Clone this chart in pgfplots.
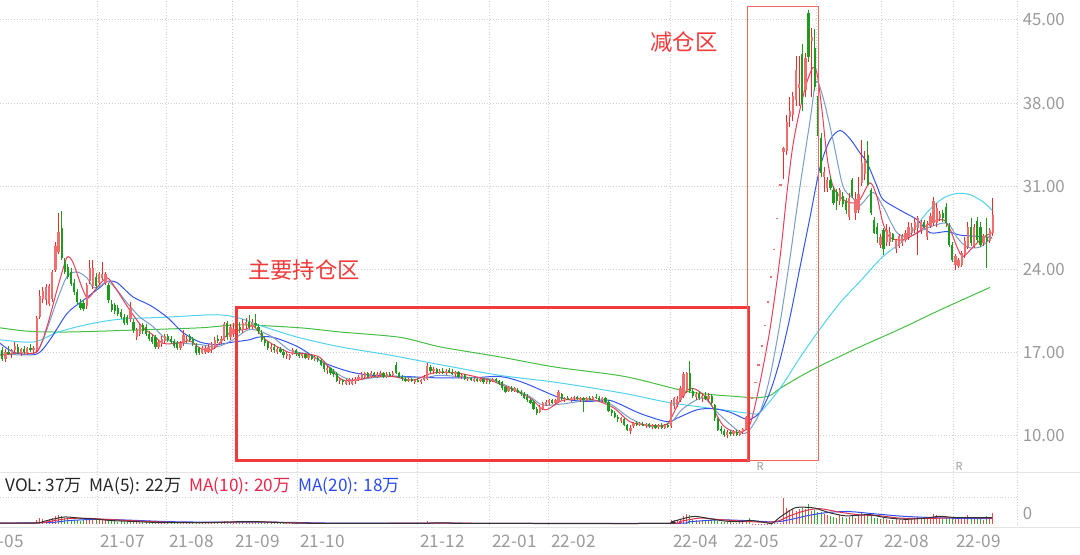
\documentclass[border=0pt]{standalone}
\usepackage{pgfplots}
\pgfplotsset{compat=1.18}
\usepackage{pgfplotstable}
\usepackage{fontspec}
\newfontfamily\cjk{Noto Sans CJK SC}
\definecolor{upbody}{HTML}{F26E6E}
\definecolor{upwick}{HTML}{EE2B2B}
\definecolor{dnbody}{HTML}{1E9B1E}
\definecolor{ma5}{HTML}{E8405A}
\definecolor{ma10}{HTML}{7A9CC8}
\definecolor{ma20}{HTML}{3355EE}
\definecolor{ma60}{HTML}{50D2EE}
\definecolor{malong}{HTML}{45BE45}
\definecolor{boxred}{HTML}{F23A3A}
\definecolor{boxthin}{HTML}{F06666}
\definecolor{lbl}{HTML}{9A9A9A}
\definecolor{gridc}{HTML}{CFCFCF}
\definecolor{sepc}{HTML}{E4E4E4}
\definecolor{vred}{HTML}{F04C4C}
\definecolor{vgreen}{HTML}{3BAA3B}
\definecolor{vma5}{HTML}{333333}
\definecolor{vma10}{HTML}{E0304A}
\definecolor{vma20}{HTML}{3050F0}
\definecolor{lgred}{HTML}{E8254A}
\definecolor{lgblue}{HTML}{2B4BF2}
\pgfplotstableread{
i o h l c v
0 17.2 17.5 16.3 16.5 4
1 16.5 17.3 16.2 17.1 3
2 17.1 17.6 16.8 16.9 3
3 16.9 17.3 16.6 17.2 2
4 17.2 17.9 17.0 17.6 4
5 17.5 17.7 16.9 17.0 3
6 17.0 17.4 16.7 17.3 2
7 17.3 17.6 16.9 17.1 3
8 17.0 17.5 16.8 17.4 2
9 17.4 17.7 17.1 17.3 3
10 17.3 17.6 17.0 17.4 3
11 17.2 20.1 17.0 19.9 15
12 20.0 22.3 19.8 21.8 20
13 21.5 22.5 21.2 22.2 18
14 21.4 22.8 21.0 22.5 14
15 21.1 22.8 20.9 22.6 16
16 21.5 24.0 21.3 23.8 22
17 24.0 26.3 23.8 26.0 28
18 25.5 28.8 25.3 27.2 30
19 27.5 28.9 24.8 25.0 26
20 24.6 25.0 23.6 23.8 20
21 24.2 24.5 23.2 23.4 18
22 23.8 24.1 22.6 22.8 15
23 22.9 23.2 21.9 22.1 14
24 22.1 22.4 21.1 21.3 12
25 21.2 21.5 20.6 20.8 10
26 21.2 21.4 20.5 20.7 12
27 20.9 22.9 20.7 22.7 18
28 23.0 24.8 22.8 24.1 22
29 22.6 24.8 22.4 24.1 20
30 23.4 23.7 22.4 22.6 15
31 22.9 23.8 22.7 23.6 14
32 23.3 24.6 23.1 23.6 12
33 22.9 23.8 22.7 23.6 13
34 22.7 22.9 21.2 21.4 12
35 21.1 21.4 20.4 20.6 10
36 21.0 21.2 20.3 20.5 9
37 20.8 21.0 20.1 20.3 8
38 20.4 20.7 19.8 20.0 9
39 20.0 20.3 19.3 19.5 8
40 20.0 20.2 19.3 19.5 8
41 19.8 21.3 19.6 20.8 12
42 19.6 19.8 18.7 18.9 9
43 18.3 19.1 18.1 18.9 7
44 18.6 19.5 18.4 19.3 8
45 19.3 19.5 18.6 18.8 7
46 19.2 19.4 18.4 18.6 6
47 18.6 18.8 18.0 18.2 6
48 18.3 18.5 17.7 17.9 5
49 18.3 18.5 17.3 17.5 6
50 17.5 18.1 17.3 17.9 5
51 17.7 18.4 17.5 18.2 5
52 18.0 18.6 17.8 18.4 6
53 18.4 18.6 17.9 18.1 5
54 18.2 18.4 17.7 17.9 4
55 18.0 18.2 17.4 17.6 4
56 17.8 18.0 17.2 17.4 4
57 17.4 18.0 17.2 17.8 5
58 17.8 18.9 17.6 18.5 6
59 18.0 18.4 17.8 18.2 5
60 18.4 18.6 17.9 18.1 4
61 18.2 18.3 17.6 17.8 4
62 17.6 17.8 16.8 17.0 5
63 17.4 17.5 16.8 17.0 4
64 17.0 17.6 16.9 17.4 4
65 17.1 17.6 16.9 17.4 4
66 17.1 17.7 17.0 17.5 4
67 17.2 17.9 17.0 17.7 5
68 17.5 18.3 17.3 18.1 6
69 18.2 18.5 17.8 18.0 5
70 17.9 18.4 17.7 18.2 6
71 18.1 19.6 18.0 19.4 10
72 19.5 19.7 18.1 18.3 9
73 18.3 19.4 18.1 19.2 8
74 18.6 19.5 18.3 19.0 8
75 18.8 19.5 18.6 19.3 7
76 19.2 19.6 18.7 18.9 7
77 18.9 19.8 18.7 19.5 9
78 19.3 19.9 19.0 19.6 8
79 19.6 20.2 19.0 19.2 10
80 19.2 19.8 19.0 19.6 7
81 19.5 20.3 19.1 19.3 9
82 19.2 19.4 18.6 18.8 6
83 18.7 18.9 17.9 18.1 6
84 18.1 18.3 17.6 17.8 5
85 17.9 18.0 17.2 17.4 5
86 17.3 17.7 17.1 17.5 4
87 17.5 17.7 17.0 17.2 4
88 17.1 17.5 16.9 17.3 4
89 17.3 17.5 17.0 17.1 4
90 17.1 17.3 16.6 16.8 3
91 16.7 17.1 16.5 16.9 3
92 16.6 16.9 16.4 16.8 3
93 16.9 17.4 16.8 17.2 3
94 17.2 17.3 16.7 16.9 3
95 16.9 17.1 16.6 16.7 3
96 16.7 17.0 16.6 16.9 2
97 16.9 17.0 16.5 16.6 2
98 16.6 16.9 16.4 16.8 2
99 16.8 16.9 16.4 16.5 2
100 16.5 16.8 16.3 16.6 2
101 16.6 16.7 16.2 16.4 2
102 16.4 16.5 15.9 16.0 2
103 16.1 16.2 15.4 15.6 3
104 15.6 15.9 15.2 15.7 2
105 15.7 15.8 15.1 15.3 2
106 15.4 15.6 15.0 15.2 2
107 15.2 15.4 14.5 14.6 3
108 14.6 14.9 14.4 14.8 2
109 14.7 14.8 14.3 14.5 2
110 14.4 14.8 14.3 14.7 2
111 14.5 14.9 14.3 14.8 2
112 14.4 14.9 14.3 14.7 2
113 14.6 15.0 14.4 14.8 2
114 14.7 15.1 14.6 15.0 2
115 14.9 15.4 14.8 15.2 2
116 15.0 15.4 14.9 15.3 2
117 15.3 15.4 14.9 15.0 2
118 15.0 15.5 14.9 15.3 2
119 15.3 15.4 15.0 15.1 2
120 15.0 15.4 14.9 15.2 2
121 15.2 15.5 15.0 15.3 2
122 15.3 15.4 14.9 15.0 2
123 15.0 15.4 14.9 15.2 2
124 15.2 15.4 15.0 15.1 2
125 15.1 15.5 15.0 15.3 2
126 16.0 16.2 15.2 15.3 4
127 15.3 15.4 14.9 15.0 2
128 15.0 15.1 14.6 14.8 2
129 14.8 15.0 14.5 14.7 2
130 14.6 14.9 14.5 14.8 2
131 14.8 14.9 14.5 14.6 2
132 14.6 14.8 14.4 14.7 2
133 14.7 14.9 14.5 14.6 2
134 14.6 14.8 14.4 14.7 2
135 14.7 15.1 14.6 15.0 2
136 14.8 16.1 14.7 15.9 9
137 15.8 16.0 15.3 15.5 5
138 15.5 15.8 15.2 15.6 3
139 15.6 15.7 15.2 15.3 3
140 15.3 15.6 15.2 15.5 3
141 15.5 15.7 15.2 15.3 3
142 15.3 15.6 15.1 15.5 3
143 15.5 15.7 15.3 15.4 2
144 15.4 15.6 15.1 15.2 2
145 15.2 15.5 15.0 15.4 2
146 15.4 15.5 14.9 15.0 2
147 15.0 15.2 14.8 15.1 2
148 15.1 15.2 14.7 14.8 2
149 14.8 15.0 14.6 14.9 2
150 14.9 15.0 14.6 14.7 2
151 14.7 14.9 14.5 14.8 2
152 14.8 14.9 14.5 14.6 2
153 14.6 14.9 14.5 14.8 2
154 14.8 14.9 14.4 14.5 2
155 14.5 14.8 14.4 14.7 2
156 14.7 14.8 14.4 14.6 2
157 14.6 14.9 14.5 14.8 2
158 14.8 14.9 14.5 14.6 2
159 14.6 14.7 14.3 14.4 2
160 14.5 14.6 13.9 14.0 2
161 14.1 14.2 13.6 13.7 2
162 13.8 14.2 13.7 14.1 2
163 14.0 14.2 13.7 13.8 2
164 13.8 14.1 13.7 14.0 2
165 13.9 14.0 13.6 13.7 2
166 13.7 13.9 13.4 13.5 2
167 13.5 13.7 13.1 13.2 2
168 13.3 13.5 12.9 13.0 2
169 13.0 13.2 12.7 12.8 2
170 12.9 13.0 12.2 12.3 2
171 12.3 12.4 11.8 11.9 2
172 12.0 12.6 11.9 12.4 2
173 12.3 12.9 12.2 12.8 2
174 12.6 13.0 12.5 12.9 2
175 12.8 13.1 12.6 13.0 2
176 13.0 13.1 12.7 12.8 2
177 12.8 13.1 12.7 13.0 2
178 12.9 13.9 12.8 13.7 3
179 13.5 13.6 13.0 13.1 2
180 13.1 13.3 12.9 13.2 2
181 13.2 13.4 13.0 13.1 2
182 13.1 13.3 12.9 13.2 2
183 13.2 13.4 13.0 13.3 2
184 13.3 13.4 13.0 13.1 2
185 13.1 13.3 12.9 13.2 2
186 13.2 13.3 12.0 13.0 3
187 13.0 13.3 12.9 13.2 2
188 13.2 13.4 13.0 13.1 2
189 13.1 13.4 13.0 13.3 2
190 13.3 13.5 13.1 13.2 2
191 13.2 13.4 12.9 13.0 2
192 13.0 13.3 12.9 13.2 2
193 13.2 13.3 12.8 12.9 2
194 12.9 13.0 12.0 12.1 3
195 12.2 12.3 11.7 11.9 3
196 11.9 12.1 11.5 11.6 3
197 11.6 11.8 11.2 11.4 2
198 11.3 11.6 11.1 11.5 2
199 11.4 11.5 10.8 10.9 3
200 10.9 11.0 10.4 10.5 3
201 10.4 10.9 10.2 10.7 2
202 10.8 11.2 10.7 11.1 2
203 11.1 11.3 10.8 10.9 2
204 10.9 11.2 10.8 11.1 2
205 11.0 11.2 10.8 10.9 2
206 10.9 11.1 10.7 11.0 2
207 11.0 11.1 10.7 10.8 2
208 10.8 11.0 10.6 10.9 2
209 10.9 11.0 10.6 10.7 2
210 10.8 11.0 10.6 10.9 2
211 10.9 11.1 10.6 10.7 2
212 10.7 11.0 10.6 10.9 2
213 10.9 11.1 10.7 10.8 2
214 10.8 13.0 10.7 12.9 12
215 12.5 13.3 12.3 13.2 15
216 12.6 13.4 12.4 13.1 14
217 13.0 14.2 12.9 14.0 18
218 13.4 15.4 13.2 15.2 28
219 13.8 15.4 13.6 15.3 35
220 15.3 16.3 13.6 13.8 30
221 13.8 14.0 13.2 13.4 18
222 13.3 13.7 13.0 13.5 14
223 13.5 13.8 13.0 13.2 10
224 13.2 13.6 12.9 13.4 12
225 13.4 13.7 13.0 13.1 10
226 13.1 13.6 12.9 13.4 9
227 13.4 13.5 12.6 12.8 14
228 12.6 12.7 11.3 11.5 12
229 11.4 11.5 10.4 10.5 10
230 10.6 10.8 10.2 10.4 8
231 10.4 10.6 9.9 10.1 8
232 10.1 10.5 9.8 10.3 6
233 10.3 10.5 10.0 10.2 6
234 10.2 10.5 10.0 10.4 5
235 10.3 10.5 10.0 10.1 5
236 10.1 10.5 10.0 10.4 6
237 10.3 10.7 10.2 10.6 8
238 10.6 11.7 10.5 11.6 15
239 12.3 12.6 11.8 12.0 22
240 13.2 13.2 13.2 13.2 1
241 14.5 14.5 14.5 14.5 1
242 16.0 16.0 16.0 16.0 1
243 17.6 17.6 17.6 17.6 1
244 19.3 19.3 19.3 19.3 1
245 21.3 21.3 21.3 21.3 1
246 23.4 23.4 23.4 23.4 1
247 25.7 25.7 25.7 25.7 2
248 28.3 28.3 28.3 28.3 3
249 31.1 31.1 31.1 31.1 5
250 33.9 34.3 31.6 34.2 88
251 34.0 37.0 33.6 36.4 55
252 36.8 38.5 36.0 37.3 48
253 37.0 38.9 36.5 38.6 52
254 38.3 42.0 37.8 40.8 45
255 39.3 42.0 37.8 39.6 50
256 42.1 43.0 37.3 37.9 55
257 39.1 42.2 38.5 41.8 50
258 45.6 45.8 41.5 41.9 68
259 43.2 44.3 38.5 43.6 45
260 42.6 44.2 39.0 39.4 48
261 38.1 38.6 35.2 35.5 40
262 35.1 35.5 31.8 32.1 42
263 31.8 32.6 30.5 32.2 35
264 30.9 31.8 30.5 31.5 30
265 31.5 31.9 30.7 30.9 28
266 30.7 31.0 29.4 29.6 25
267 30.5 30.8 29.0 29.8 22
268 29.8 30.9 29.4 30.7 30
269 30.2 30.5 29.3 29.5 25
270 29.8 30.0 28.7 29.0 22
271 28.4 30.4 28.2 30.0 25
272 31.5 31.7 30.0 30.2 28
273 28.8 30.5 28.2 29.9 22
274 29.0 31.8 28.8 30.4 30
275 31.3 34.9 31.0 33.0 38
276 32.0 34.0 31.5 33.2 35
277 33.6 34.8 31.0 31.1 32
278 30.7 30.9 28.6 28.8 26
279 28.2 28.4 27.0 27.1 22
280 27.6 27.9 26.2 27.0 20
281 26.1 27.0 25.8 26.7 18
282 27.3 27.5 25.2 25.7 20
283 26.3 27.8 26.0 27.3 16
284 26.3 27.6 26.0 27.2 15
285 27.0 27.1 26.3 26.5 14
286 25.7 26.6 25.4 26.5 18
287 26.0 27.0 25.8 26.8 15
288 26.2 27.0 26.0 26.8 14
289 26.5 27.3 26.3 27.1 16
290 26.7 28.0 26.5 27.6 18
291 27.1 27.9 26.9 27.6 16
292 27.3 28.3 27.1 28.0 20
293 27.5 28.5 25.2 28.3 25
294 27.3 28.2 27.0 28.0 18
295 28.0 28.2 27.5 27.6 16
296 26.7 28.1 26.5 27.8 20
297 27.7 28.8 27.5 28.5 24
298 27.9 30.1 27.7 29.8 35
299 27.9 29.6 27.6 29.2 30
300 28.3 28.9 28.1 28.7 22
301 28.8 29.0 28.0 28.3 18
302 29.3 29.6 27.6 27.9 25
303 27.6 27.9 25.9 26.1 22
304 26.1 26.3 24.6 24.8 20
305 24.4 25.3 24.0 25.1 18
306 24.3 25.0 24.1 24.8 16
307 24.4 25.6 24.2 25.4 20
308 25.2 26.7 25.0 26.4 24
309 25.9 28.0 25.7 27.6 30
310 27.6 28.3 26.0 26.2 22
311 26.0 27.8 25.8 27.6 25
312 28.1 28.4 26.2 26.5 20
313 27.6 28.0 25.9 26.1 18
314 26.2 27.0 26.0 26.8 15
315 26.7 28.3 24.1 26.4 28
316 26.4 27.5 26.2 27.3 20
317 27.1 30.0 26.8 28.6 37
}\candles
\begin{document}
\begin{tikzpicture}
\path[use as bounding box] (0,0) rectangle (540pt,277.5pt);
% ---------------- price panel ----------------
\begin{axis}[
  at={(0pt,277.5pt)}, anchor=north west,
  scale only axis, width=509pt, height=236pt,
  xmin=0, xmax=1018, ymin=6.97, ymax=46.68,
  axis line style={draw=none}, major tick length=0pt,
  xtick={97,166,232,297,417,489,548,670,731,816,881,953,1017},
  xticklabels={},
  ytick={10,17,24,31,38,45},
  yticklabels={10.00,17.00,24.00,31.00,38.00,45.00},
  yticklabel pos=right,
  yticklabel style={font=\cjk\fontsize{8.4}{9}\selectfont, text=lbl, anchor=west, inner sep=0pt, xshift=2.2pt},
  grid=major, grid style={gridc, densely dotted, line width=0.5pt},
]
% long MA
\addplot[malong, line width=0.5pt, smooth, mark=none] coordinates {(0,19.1) (30,18.8) (70,18.75) (130,18.9) (200,19.1) (240,19.35) (300,19.1) (340,18.75) (400,18.3) (440,17.5) (500,16.65) (555,15.8) (625,15.0) (690,13.7) (740,13.3) (755,13.2) (770,13.4) (780,14.0) (800,15.0) (820,15.9) (840,16.7) (860,17.5) (900,19.0) (940,20.6) (990,22.5)};
% MA60
\addplot[ma60, line width=0.5pt, smooth, mark=none] coordinates {(0,18.1) (33,17.9) (57,18.7) (83,19.3) (117,19.8) (167,20.0) (217,20.2) (240,19.9) (260,19.3) (298,18.3) (340,17.5) (390,16.8) (440,16.0) (500,15.1) (557,14.5) (623,13.6) (670,12.8) (723,12.2) (750,11.9) (760,12.0) (780,14.0) (800,16.6) (820,19.0) (840,21.2) (860,23.0) (883,25.1) (907,26.7) (927,28.8) (943,30.0) (957,30.4) (970,30.3) (983,29.7) (992,29.0)};
% MA20
\addplot[ma20, line width=0.5pt, smooth, mark=none] coordinates {(0,17.8) (15,17.0) (37,16.9) (50,18.1) (67,20.3) (83,21.4) (100,22.5) (107,23.0) (117,22.9) (133,21.7) (150,21.0) (167,20.0) (183,18.7) (200,17.9) (217,17.7) (233,17.9) (250,18.1) (257,18.3) (273,18.3) (298,17.5) (323,16.2) (350,15.4) (373,15.1) (407,15.0) (433,14.9) (473,14.9) (500,15.0) (523,14.5) (557,13.3) (573,13.0) (590,12.9) (610,13.0) (640,11.9) (667,11.2) (677,11.5) (697,12.2) (713,12.3) (730,12.0) (743,11.5) (750,11.4) (760,12.0) (770,13.7) (780,16.4) (790,20.0) (800,24.2) (810,28.4) (820,32.6) (830,34.9) (840,35.7) (850,35.0) (860,33.8) (867,33.0) (877,31.0) (883,29.9) (900,29.0) (917,28.2) (930,27.1) (947,27.2) (960,26.9) (977,26.8) (992,26.7)};
% MA10
\addplot[ma10, line width=0.5pt, smooth, mark=none] coordinates {(0,16.9) (33,16.9) (43,18.1) (57,21.4) (67,23.4) (77,23.8) (87,23.3) (93,22.5) (100,22.6) (107,23.0) (115,22.5) (127,21.2) (140,20.0) (153,19.2) (167,18.1) (183,17.8) (200,17.7) (217,17.5) (233,18.1) (247,18.9) (257,18.9) (273,18.3) (290,17.2) (307,16.9) (323,16.2) (340,15.1) (353,14.7) (373,14.9) (390,15.0) (423,14.9) (440,15.1) (473,14.9) (490,14.8) (510,14.1) (530,13.3) (543,12.6) (563,12.7) (590,13.0) (610,12.7) (630,11.5) (650,10.8) (670,11.1) (683,12.3) (703,13.2) (717,12.0) (737,10.5) (747,10.3) (760,12.0) (770,15.0) (780,19.5) (790,25.0) (800,31.0) (810,36.5) (816,39.8) (823,38.5) (833,34.9) (843,31.0) (853,30.0) (860,29.4) (873,30.5) (883,29.3) (897,27.1) (910,26.8) (927,27.5) (947,27.9) (957,26.7) (967,25.9) (980,25.9) (992,26.7)};
% MA5
\addplot[ma5, line width=0.5pt, smooth, mark=none] coordinates {(0,16.8) (20,17.0) (37,17.1) (47,19.2) (57,22.3) (65,24.6) (68,25.1) (73,24.6) (82,22.5) (88,21.6) (97,22.5) (107,23.3) (115,22.5) (125,21.2) (133,20.2) (143,19.1) (153,18.5) (163,17.8) (177,17.8) (190,18.0) (200,17.4) (213,17.3) (230,18.7) (247,19.0) (253,19.3) (263,18.3) (273,17.7) (290,17.0) (307,16.9) (320,16.6) (333,15.4) (343,14.7) (357,14.7) (373,15.0) (393,15.0) (413,14.7) (433,15.3) (457,15.3) (480,14.9) (490,14.7) (510,14.0) (530,13.2) (545,12.2) (563,13.0) (590,13.1) (613,12.4) (630,11.2) (650,10.9) (667,11.0) (680,13.0) (690,14.0) (700,13.7) (710,12.8) (723,10.9) (737,10.3) (747,10.6) (752,11.5) (760,14.5) (770,19.0) (780,25.0) (787,30.5) (793,34.5) (800,37.5) (807,39.8) (813,41.0) (817,40.5) (822,37.4) (827,33.5) (833,31.0) (843,29.9) (853,29.6) (860,29.9) (870,31.3) (877,30.1) (883,27.9) (890,26.7) (903,26.5) (917,27.1) (930,27.9) (943,28.2) (950,27.4) (957,25.9) (963,25.1) (973,25.9) (983,26.7) (992,27.1)};
% candles: wicks (rows of the other colour are pushed out of range and discarded)
\addplot[draw=none, mark=none, restrict y to domain=0:100, error bars/.cd, y dir=both, y explicit, error mark=none, error bar style={draw=upwick, line width=0.45pt}]
  table[x expr=2.3+3.125*\thisrow{i}, y expr={(\thisrow{h}+\thisrow{l})/2+1000*(\thisrow{c}<\thisrow{o})}, y error expr={(\thisrow{h}-\thisrow{l})/2}] {\candles};
\addplot[draw=none, mark=none, restrict y to domain=0:100, error bars/.cd, y dir=both, y explicit, error mark=none, error bar style={draw=dnbody, line width=0.45pt}]
  table[x expr=2.3+3.125*\thisrow{i}, y expr={(\thisrow{h}+\thisrow{l})/2+1000*(\thisrow{c}>=\thisrow{o})}, y error expr={(\thisrow{h}-\thisrow{l})/2}] {\candles};
% candles: bodies
\addplot[draw=none, mark=none, restrict y to domain=0:100, error bars/.cd, y dir=both, y explicit, error mark=none, error bar style={draw=upbody, line width=1.1pt}]
  table[x expr=2.3+3.125*\thisrow{i}, y expr={(\thisrow{o}+\thisrow{c})/2+1000*(\thisrow{c}<\thisrow{o})}, y error expr={max(abs(\thisrow{c}-\thisrow{o})/2,0.07)}] {\candles};
\addplot[draw=none, mark=none, restrict y to domain=0:100, error bars/.cd, y dir=both, y explicit, error mark=none, error bar style={draw=dnbody, line width=1.1pt}]
  table[x expr=2.3+3.125*\thisrow{i}, y expr={(\thisrow{o}+\thisrow{c})/2+1000*(\thisrow{c}>=\thisrow{o})}, y error expr={max(abs(\thisrow{c}-\thisrow{o})/2,0.07)}] {\candles};
% annotation boxes
\draw[boxred, line width=1.5pt] (axis cs:236,20.77) rectangle (axis cs:748,7.90);
\draw[boxthin, line width=0.5pt] (axis cs:747,46.09) rectangle (axis cs:818,7.90);
\node[text=boxred, font=\cjk\fontsize{11.2}{12}\selectfont, inner sep=0pt] at (axis cs:304,23.97) {主要持仓区};
\node[text=boxred, font=\cjk\fontsize{11.2}{12}\selectfont, inner sep=0pt] at (axis cs:684,43.15) {减仓区};
\end{axis}
% ---------------- volume panel ----------------
\begin{axis}[
  at={(0pt,41.5pt)}, anchor=north west,
  scale only axis, width=509pt, height=28pt,
  xmin=0, xmax=1018, ymin=-13.6, ymax=176.8,
  axis line style={draw=none}, major tick length=0pt,
  xtick={97,166,232,297,417,489,548,670,731,816,881,953,1017},
  xticklabels={21-07,21-08,21-09,21-10,21-12,22-01,22-02,22-04,22-05,22-07,22-08,22-09,},
  xticklabel style={font=\cjk\fontsize{8.6}{9}\selectfont, text=lbl, anchor=west, inner sep=0pt, xshift=1.5pt, yshift=-6.5pt},
  ytick={88.4}, yticklabels={},
  grid=major, grid style={gridc, densely dotted, line width=0.5pt},
]
\addplot[ycomb, draw=vred, line width=0.5pt, mark=none, restrict y to domain=-1:500] table[x expr=2.3+3.125*\thisrow{i}, y expr={\thisrow{v}+1000*(\thisrow{c}<\thisrow{o})}] {\candles};
\addplot[ycomb, draw=vgreen, line width=0.5pt, mark=none, restrict y to domain=-1:500] table[x expr=2.3+3.125*\thisrow{i}, y expr={\thisrow{v}+1000*(\thisrow{c}>=\thisrow{o})}] {\candles};
\addplot[vma20, line width=0.5pt, smooth, mark=none] coordinates {(0,3) (50,5) (70,12) (100,16) (130,13) (170,8) (220,6) (260,6.5) (300,5) (340,3) (480,2.5) (670,2) (690,8) (720,14) (750,11) (775,7) (790,15) (810,30) (830,40) (850,42) (870,36) (900,27) (930,22) (960,19) (992,18)};
\addplot[vma10, line width=0.5pt, smooth, mark=none] coordinates {(0,3) (40,4) (55,12) (70,19) (90,19) (110,15) (140,10) (170,6) (200,5) (240,7) (270,6.5) (300,3.5) (340,2.2) (440,3) (480,2.5) (665,2) (680,9) (700,20) (720,15) (745,9) (765,6) (778,10) (790,28) (805,45) (820,52) (840,40) (860,31) (880,28) (900,20) (930,19) (960,22) (992,20)};
\addplot[vma5, line width=0.5pt, smooth, mark=none] coordinates {(0,3) (35,3) (45,10) (55,18) (65,24) (80,20) (95,17) (110,12) (130,9) (160,5) (200,4.5) (225,6) (245,8.5) (265,7) (285,4) (320,2.2) (420,2) (435,4) (450,3.5) (470,2) (660,2) (672,8) (685,20) (695,26) (710,18) (725,10) (740,8) (750,12) (760,8) (772,2) (778,18) (785,35) (795,55) (805,57) (815,54) (830,38) (845,28) (860,30) (870,32) (885,22) (905,16) (925,20) (940,26) (955,22) (975,22) (992,22)};
\end{axis}
% separators and labels
\draw[sepc, line width=0.5pt] (0pt,41pt) -- (540pt,41pt);
\draw[sepc, line width=0.5pt] (0pt,13.5pt) -- (540pt,13.5pt);
\node[anchor=west, inner sep=0pt, font=\cjk\fontsize{8.6}{9}\selectfont, text=lbl] at (-10.3pt,7pt) {21-05};
\node[anchor=west, inner sep=0pt, font=\cjk\fontsize{8.4}{9}\selectfont, text=lbl] at (511.2pt,20.5pt) {0};
\node[inner sep=0pt, font=\cjk\fontsize{5.5}{6}\selectfont, text=lbl] at (380pt,44.5pt) {R};
\node[inner sep=0pt, font=\cjk\fontsize{5.5}{6}\selectfont, text=lbl] at (479.5pt,44.5pt) {R};
\node[anchor=west, inner sep=0pt, font=\cjk\fontsize{8.6}{9}\selectfont, text=black!85] at (2.5pt,34.5pt) {VOL: 37万\ \ MA(5): 22万\ \ \textcolor{lgred}{MA(10): 20万}\ \ \textcolor{lgblue}{MA(20): 18万}};
\end{tikzpicture}
\end{document}
